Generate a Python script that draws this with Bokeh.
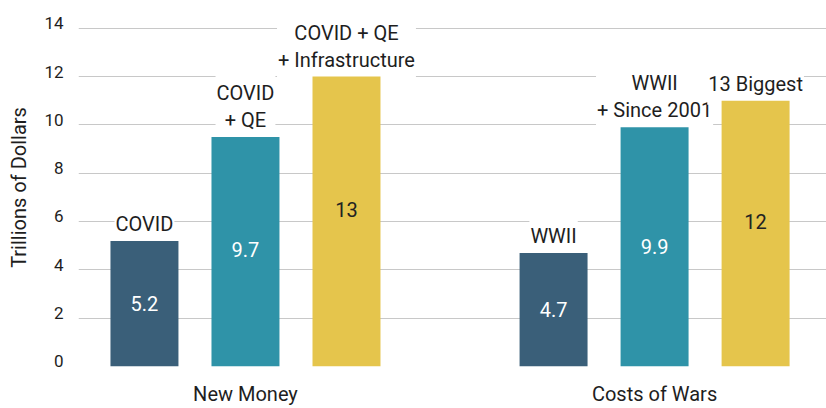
from bokeh.plotting import figure
from bokeh.models import (ColumnDataSource, FixedTicker, Range1d, LinearAxis,
                          CustomJSTickFormatter)
from bokeh.embed import file_html
from bokeh.resources import INLINE
from bokeh.core.properties import value

# ---- data ----
groups = ["New Money", "Costs of Wars"]
categories = [
    ["COVID", "COVID\n+ QE", "COVID + QE\n+ Infrastructure"],
    ["WWII", "WWII\n+ Since 2001", "13 Biggest"],
]
bar_heights = [[5.2, 9.5, 12.0], [4.7, 9.9, 11.0]]
values = [[5.2, 9.7, 13.0], [4.7, 9.9, 12.0]]
value_labels = [["5.2", "9.7", "13"], ["4.7", "9.9", "12"]]
y_ticks = [0, 2, 4, 6, 8, 10, 12, 14]
bar_colors = ["#3a5f79", "#2f93a8", "#e5c54c"]
value_text_colors = ["#ffffff", "#ffffff", "#222222"]

# ---- layout constants ----
GROUP_STEP = 4.05
BAR_W = 0.673
FONT = "Roboto"
TXT = "#1e1e1e"
Y_END = 14.82
LABEL_SHIFT = 0.21   # tick labels sit slightly above their grid line

xs, tops, cats, vals, vlabels, fills, vcols = [], [], [], [], [], [], []
for gi, g in enumerate(groups):
    for i in range(3):
        xs.append(gi * GROUP_STEP + i)
        tops.append(bar_heights[gi][i])
        cats.append(categories[gi][i])
        vals.append(values[gi][i] / 2.0)
        vlabels.append(value_labels[gi][i])
        fills.append(bar_colors[i])
        vcols.append(value_text_colors[i])

src = ColumnDataSource(dict(x=xs, top=tops, cat=cats, vy=vals, vlab=vlabels,
                            fill=fills, vcol=vcols))

p = figure(width=826, height=408, output_backend="svg", toolbar_location=None,
           x_range=Range1d(-0.653, 6.752), y_range=Range1d(0, Y_END),
           min_border_top=8, min_border_left=78, min_border_right=0,
           min_border_bottom=40, outline_line_color=None)
p.background_fill_color = "white"
p.border_fill_color = "white"

p.xgrid.visible = False
p.ygrid.ticker = FixedTicker(ticks=y_ticks)
p.ygrid.grid_line_color = "#c8c8c8"
p.ygrid.grid_line_width = 1.2

# category labels (white box hides the grid behind them), drawn before bars
p.text(x="x", y="top", text="cat", source=src, text_align="center",
       text_baseline="bottom", y_offset=4, text_font=value(FONT),
       text_font_size="20px", text_color=TXT, text_line_height=1.12,
       background_fill_color="white", padding=(1, 9))

p.vbar(x="x", top="top", bottom=0, width=BAR_W, fill_color="fill",
       line_color=None, source=src)

p.text(x="x", y="vy", text="vlab", source=src, text_align="center",
       text_baseline="middle", text_font=value(FONT), text_font_size="20px",
       text_color="vcol")

# x axis: group names under the middle bar of each group
xa = p.xaxis[0]
xa.ticker = FixedTicker(ticks=[gi * GROUP_STEP + 1 for gi in range(len(groups))])
xa.formatter = CustomJSTickFormatter(args=dict(names=groups, step=GROUP_STEP),
                                     code="return names[Math.round((tick - 1) / step)];")
xa.axis_line_color = None
xa.major_tick_line_color = None
xa.minor_tick_line_color = None
xa.major_tick_out = 0
xa.major_tick_in = 0
xa.minor_tick_out = 0
xa.minor_tick_in = 0
xa.axis_label_standoff = 0
xa.major_label_standoff = 15
xa.major_label_text_font = FONT
xa.major_label_text_font_size = "20px"
xa.major_label_text_color = TXT

# y axis whose labels sit a little above the grid lines
p.yaxis.visible = False
p.extra_y_ranges = {"lab": Range1d(-LABEL_SHIFT, Y_END - LABEL_SHIFT)}
ya = LinearAxis(y_range_name="lab", ticker=FixedTicker(ticks=y_ticks))
ya.axis_line_color = None
ya.major_tick_line_color = None
ya.minor_tick_line_color = None
ya.major_tick_out = 0
ya.major_tick_in = 0
ya.minor_tick_out = 0
ya.minor_tick_in = 0
ya.major_label_standoff = 15
ya.major_label_text_font = FONT
ya.major_label_text_font_size = "17px"
ya.major_label_text_color = TXT
ya.axis_label = "Trillions of Dollars"
ya.axis_label_text_font = FONT
ya.axis_label_text_font_size = "20px"
ya.axis_label_text_font_style = "normal"
ya.axis_label_text_color = TXT
ya.axis_label_standoff = 10
p.add_layout(ya, "left")

open("out.html", "w").write(file_html(p, INLINE))
